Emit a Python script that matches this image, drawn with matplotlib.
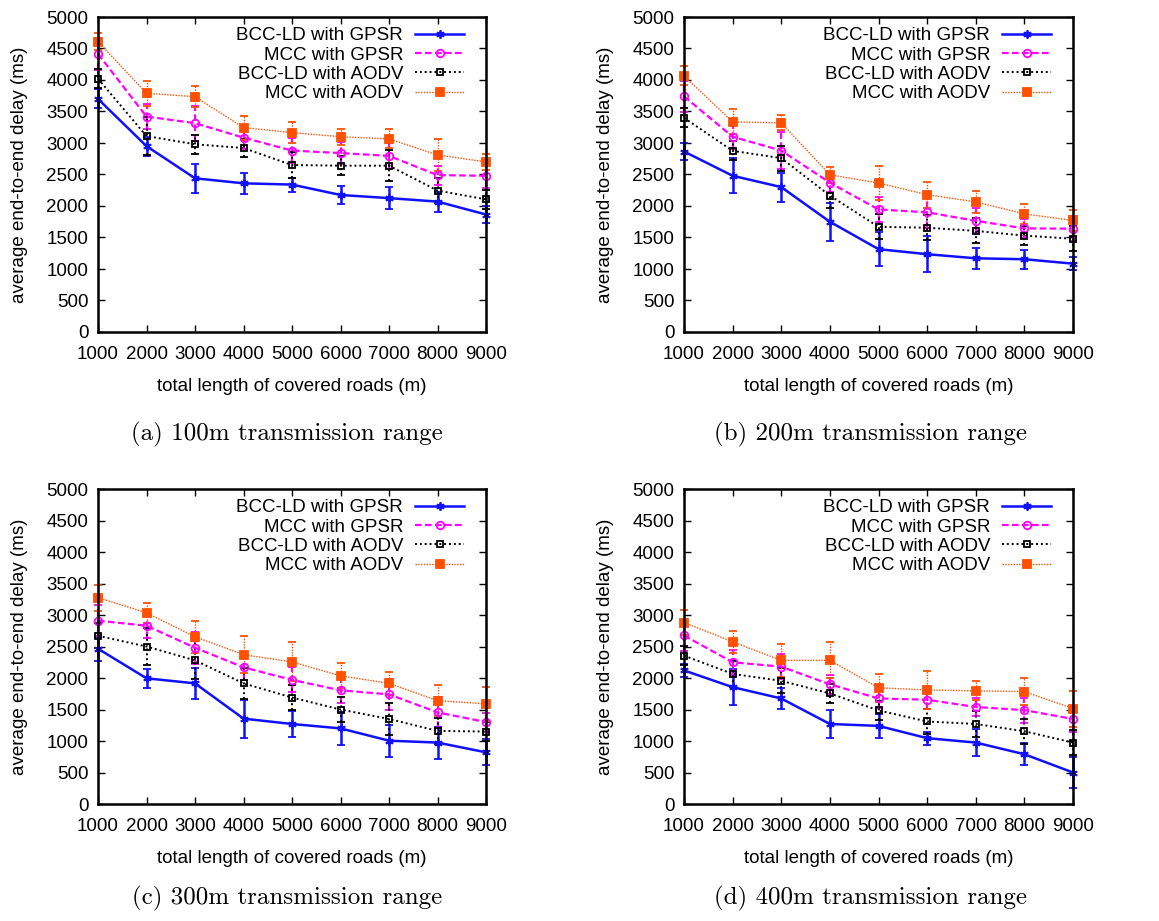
import numpy as np
import matplotlib
matplotlib.use("Agg")
import matplotlib.pyplot as plt

plt.rcParams['font.family'] = ['Liberation Sans', 'DejaVu Sans']

lengths = [1000, 2000, 3000, 4000, 5000, 6000, 7000, 8000, 9000]
series_names = ['BCC-LD with GPSR', 'MCC with GPSR', 'BCC-LD with AODV', 'MCC with AODV']
captions = ['(a) 100m transmission range', '(b) 200m transmission range',
            '(c) 300m transmission range', '(d) 400m transmission range']

# (a) 100m
a_bcc_gpsr = [3700, 2950, 2440, 2360, 2340, 2175, 2125, 2070, 1865]
a_bcc_gpsr_err = [150, 150, 230, 170, 110, 145, 170, 160, 130]
a_mcc_gpsr = [4415, 3420, 3315, 3085, 2880, 2840, 2795, 2490, 2480]
a_mcc_gpsr_err = [250, 200, 280, 180, 200, 180, 200, 150, 200]
a_bcc_aodv = [4020, 3110, 2980, 2920, 2650, 2640, 2640, 2245, 2105]
a_bcc_aodv_err = [150, 300, 150, 150, 200, 150, 250, 200, 150]
a_mcc_aodv = [4610, 3790, 3735, 3245, 3165, 3100, 3065, 2810, 2700]
a_mcc_aodv_err = [135, 195, 170, 190, 170, 130, 150, 250, 125]

# (b) 200m
b_bcc_gpsr = [2865, 2480, 2300, 1750, 1315, 1235, 1170, 1155, 1085]
b_bcc_gpsr_err = [130, 280, 230, 300, 270, 290, 165, 150, 100]
b_mcc_gpsr = [3740, 3100, 2880, 2370, 1945, 1900, 1765, 1645, 1640]
b_mcc_gpsr_err = [250, 200, 300, 150, 200, 250, 200, 150, 200]
b_bcc_aodv = [3400, 2875, 2760, 2165, 1670, 1655, 1605, 1530, 1480]
b_bcc_aodv_err = [150, 150, 200, 200, 200, 200, 200, 150, 200]
b_mcc_aodv = [4065, 3335, 3320, 2495, 2365, 2180, 2065, 1875, 1770]
b_mcc_aodv_err = [150, 200, 120, 130, 275, 205, 180, 155, 165]

# (c) 300m
c_bcc_gpsr = [2465, 1995, 1915, 1355, 1270, 1200, 1005, 975, 820]
c_bcc_gpsr_err = [190, 150, 250, 300, 210, 260, 255, 255, 205]
c_mcc_gpsr = [2910, 2830, 2480, 2170, 1970, 1805, 1740, 1455, 1300]
c_mcc_gpsr_err = [250, 200, 250, 200, 200, 200, 250, 250, 150]
c_bcc_aodv = [2670, 2500, 2280, 1915, 1690, 1500, 1350, 1160, 1150]
c_bcc_aodv_err = [200, 300, 300, 250, 200, 200, 250, 200, 150]
c_mcc_aodv = [3275, 3035, 2655, 2370, 2255, 2035, 1915, 1640, 1590]
c_mcc_aodv_err = [205, 155, 255, 290, 310, 200, 185, 250, 275]

# (d) 400m
d_bcc_gpsr = [2120, 1855, 1675, 1270, 1240, 1045, 975, 790, 500]
d_bcc_gpsr_err = [105, 290, 165, 220, 185, 105, 220, 175, 245]
d_mcc_gpsr = [2675, 2250, 2180, 1900, 1675, 1655, 1540, 1490, 1350]
d_mcc_gpsr_err = [250, 200, 200, 150, 150, 150, 150, 200, 200]
d_bcc_aodv = [2355, 2065, 1955, 1755, 1485, 1310, 1270, 1155, 975]
d_bcc_aodv_err = [150, 200, 200, 150, 150, 200, 200, 200, 200]
d_mcc_aodv = [2880, 2575, 2280, 2280, 1845, 1810, 1795, 1785, 1515]
d_mcc_aodv_err = [200, 175, 260, 285, 220, 300, 150, 220, 285]

panels = [
    [(a_bcc_gpsr, a_bcc_gpsr_err), (a_mcc_gpsr, a_mcc_gpsr_err), (a_bcc_aodv, a_bcc_aodv_err), (a_mcc_aodv, a_mcc_aodv_err)],
    [(b_bcc_gpsr, b_bcc_gpsr_err), (b_mcc_gpsr, b_mcc_gpsr_err), (b_bcc_aodv, b_bcc_aodv_err), (b_mcc_aodv, b_mcc_aodv_err)],
    [(c_bcc_gpsr, c_bcc_gpsr_err), (c_mcc_gpsr, c_mcc_gpsr_err), (c_bcc_aodv, c_bcc_aodv_err), (c_mcc_aodv, c_mcc_aodv_err)],
    [(d_bcc_gpsr, d_bcc_gpsr_err), (d_mcc_gpsr, d_mcc_gpsr_err), (d_bcc_aodv, d_bcc_aodv_err), (d_mcc_aodv, d_mcc_aodv_err)],
]

# color, line style, line width, marker, marker face, marker size
styles = [
    ('#1010ff', '-', 1.8, (6, 2, 0), '#1010ff', 6),
    ('#ff00ff', (0, (3, 1.5)), 1.6, 'o', 'none', 5.5),
    ('#000000', (0, (1, 1.5)), 1.4, 's', 'none', 5),
    ('#ff5000', (0, (1, 1)), 1.0, 's', '#ff5000', 6),
]

W, H = 1159, 921
fig = plt.figure(figsize=(W / 100, H / 100), dpi=100)

# axes boxes in pixels: left, top, right, bottom
boxes = [(98, 17, 486, 332), (684, 17, 1073, 332), (98, 489, 486, 804), (684, 489, 1073, 804)]
caption_pos = [(287, 434), (870, 434), (287, 898), (870, 898)]
fs = 13.5

for i, (box, data) in enumerate(zip(boxes, panels)):
    l, t, r, b = box
    ax = fig.add_axes([l / W, 1 - b / H, (r - l) / W, (b - t) / H])
    handles = []
    for (vals, errs), name, st in zip(data, series_names, styles):
        col, ls, lw, mk, mfc, ms = st
        eb = ax.errorbar(lengths, vals, yerr=errs, color=col, ls=ls, lw=lw,
                         marker=mk, mfc=mfc, mec=col, ms=ms, mew=1.3,
                         elinewidth=lw, capsize=3, capthick=lw, label=name,
                         clip_on=False)
        eb[2][0].set_linestyle(ls)
        handles.append(eb[0])
    ax.set_xlim(1000, 9000)
    ax.set_ylim(0, 5000)
    ax.set_xticks(lengths)
    ax.set_yticks(np.arange(0, 5001, 500))
    ax.tick_params(direction='in', length=5, width=1, top=True, right=True,
                   labelsize=fs)
    ax.tick_params(axis='x', pad=10)
    ax.tick_params(axis='y', pad=7)
    for sp in ax.spines.values():
        sp.set_linewidth(1.8)
    ax.set_xlabel('total length of covered roads (m)', fontsize=fs, labelpad=11)
    ax.set_ylabel('average end-to-end delay (ms)', fontsize=fs, labelpad=13)
    ax.legend(handles, series_names, loc='upper right',
              bbox_to_anchor=(1 - 22 / (r - l), 1 - 10 / (b - t)),
              borderaxespad=0, borderpad=0, frameon=False, markerfirst=False,
              fontsize=fs, handlelength=2.6, handletextpad=0.65, labelspacing=0.12)
    cx, cy = caption_pos[i]
    fig.text(cx / W, 1 - cy / H, captions[i], ha='center', va='center',
             fontsize=18, family='cmr10')

fig.savefig('out.png', dpi=100)
